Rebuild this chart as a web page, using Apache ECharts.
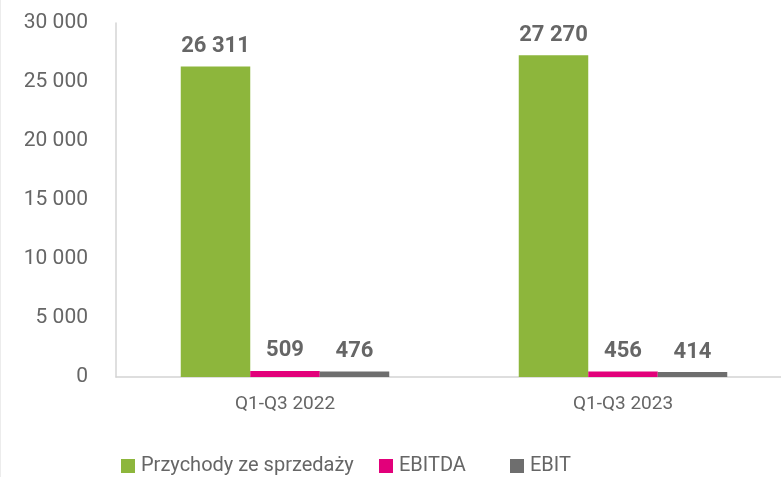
<!DOCTYPE html>
<html>
<head>
<meta charset="utf-8">
<title>Przychody, EBITDA i EBIT</title>
<script src="https://cdn.jsdelivr.net/npm/echarts@6/dist/echarts.min.js"></script>
<style>
  html, body { margin: 0; padding: 0; background: #ffffff; overflow: hidden; width: 781px; height: 477px; }
  /* the plot area runs a little past the right edge of the page */
  #chart { width: 792px; height: 477px; }
</style>
</head>
<body>
<div id="chart"></div>
<script>
// Periods on the category axis
const categories = ['Q1-Q3 2022', 'Q1-Q3 2023'];

// Series values (mln zł)
const revenue = [26311, 27270];
const ebitda = [509, 456];
const ebit = [476, 414];

// Series names shown in the legend
const seriesNames = ['Przychody ze sprzedaży', 'EBITDA', 'EBIT'];

// Value axis range
const yMin = 0;
const yMax = 30000;
const yStep = 5000;

const colors = ['#8db63c', '#e2007a', '#6e6e6e'];
const textColor = '#666666';
const fontFamily = 'Roboto, "Noto Sans", sans-serif';

// Thousands separated by a space, e.g. 26 311
function fmt(v) {
  return String(v).replace(/\B(?=(\d{3})+(?!\d))/g, ' ');
}

const chart = echarts.init(document.getElementById('chart'), null, { renderer: 'canvas' });

const seriesData = [revenue, ebitda, ebit];

const series = seriesData.map((values, i) => ({
  name: seriesNames[i],
  type: 'bar',
  data: values,
  barWidth: 69.5,
  barGap: '0%',
  itemStyle: { color: colors[i] },
  label: {
    show: true,
    position: 'top',
    distance: 9,
    color: textColor,
    fontFamily: fontFamily,
    fontWeight: 'bold',
    fontSize: 22,
    formatter: p => fmt(p.value)
  }
}));

// One legend block per series so each entry sits at its own spot
const legendLefts = [116, 374, 505];
const legends = seriesNames.map((name, i) => ({
  data: [name],
  left: legendLefts[i],
  top: 451,
  itemWidth: 14,
  itemHeight: 14,
  itemGap: 0,
  icon: 'rect',
  textStyle: { color: textColor, fontFamily: fontFamily, fontSize: 20, lineHeight: 20, padding: [0, 0, 0, 1] },
  selectedMode: false
}));

chart.setOption({
  animation: false,
  backgroundColor: '#ffffff',
  grid: { left: 116, right: 0, top: 23, bottom: 100, containLabel: false },
  legend: legends,
  // thin frame line along the left edge
  graphic: [{
    type: 'rect',
    left: 0,
    top: 0,
    shape: { width: 1, height: 477 },
    style: { fill: '#ececec' },
    silent: true
  }],
  xAxis: {
    type: 'category',
    data: categories,
    axisLine: { show: true, lineStyle: { color: '#d4d4d4', width: 1.5 } },
    axisTick: { show: false },
    axisLabel: { color: textColor, fontFamily: fontFamily, fontSize: 19, margin: 18 }
  },
  yAxis: {
    type: 'value',
    min: yMin,
    max: yMax,
    interval: yStep,
    axisLine: { show: true, lineStyle: { color: '#d4d4d4', width: 1.5 } },
    axisTick: { show: false },
    splitLine: { show: false },
    axisLabel: {
      color: textColor,
      fontFamily: fontFamily,
      fontSize: 21,
      margin: 28,
      formatter: v => fmt(v)
    }
  },
  series: series
});
</script>
</body>
</html>
